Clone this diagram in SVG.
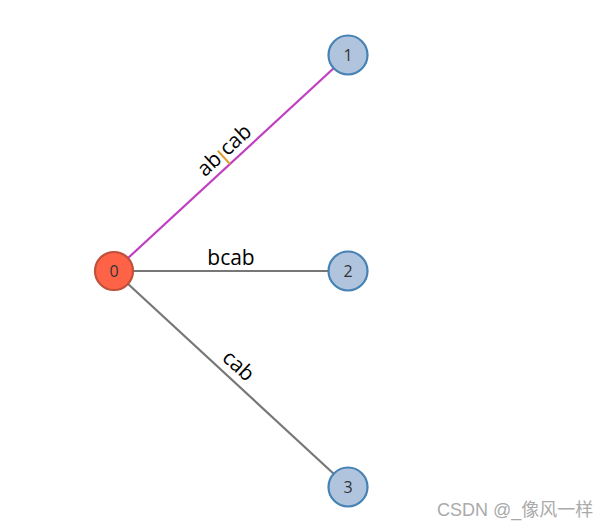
<svg xmlns="http://www.w3.org/2000/svg" width="608" height="525" viewBox="0 0 608 525">
<style>
.edge{stroke:#777;stroke-width:2.2;fill:none}
.hl{stroke:#c040c0}
.lbl{font-family:"Open Sans","Noto Sans",sans-serif;font-size:21px;fill:#000}
.node circle{fill:#b0c4de;stroke:#4682b4;stroke-width:2.2}
.node.root circle{fill:#ff6347;stroke:#c0503a}
.node text{font-family:"Open Sans","Noto Sans",sans-serif;font-size:16px;fill:#333;text-anchor:middle}
.wm{font-family:"Liberation Sans","Noto Sans CJK SC",sans-serif;font-size:18px;fill:#aaa}
</style>
<rect width="608" height="525" fill="#fff"/>
<g id="connectors">
<line class="edge hl" x1="114" y1="271" x2="348" y2="55"/>
<line class="edge" x1="114" y1="271" x2="348" y2="271"/>
<line class="edge" x1="114" y1="271" x2="348" y2="487"/>
<g transform="translate(230,164) rotate(-42.7)">
<text class="lbl" x="-3" y="-7" text-anchor="end">ab</text>
<line x1="0" y1="0" x2="0" y2="-18" stroke="#e0a030" stroke-width="2"/>
<text class="lbl" x="3" y="-7" text-anchor="start">cab</text>
</g>
<text class="lbl" x="231" y="265" text-anchor="middle">bcab</text>
<g transform="translate(229,376) rotate(42.7)">
<text class="lbl" x="0" y="-7" text-anchor="middle">cab</text>
</g>
</g>
<g id="node0" class="node root"><circle cx="114" cy="271" r="19"/><text x="114" y="277">0</text></g>
<g id="node1" class="node"><circle cx="348" cy="55" r="19.5"/><text x="348" y="61">1</text></g>
<g id="node2" class="node"><circle cx="348" cy="271" r="19.5"/><text x="348" y="277">2</text></g>
<g id="node3" class="node"><circle cx="348" cy="487" r="19.5"/><text x="348" y="493">3</text></g>
<text class="wm" x="437" y="516">CSDN @_像风一样</text>
</svg>
